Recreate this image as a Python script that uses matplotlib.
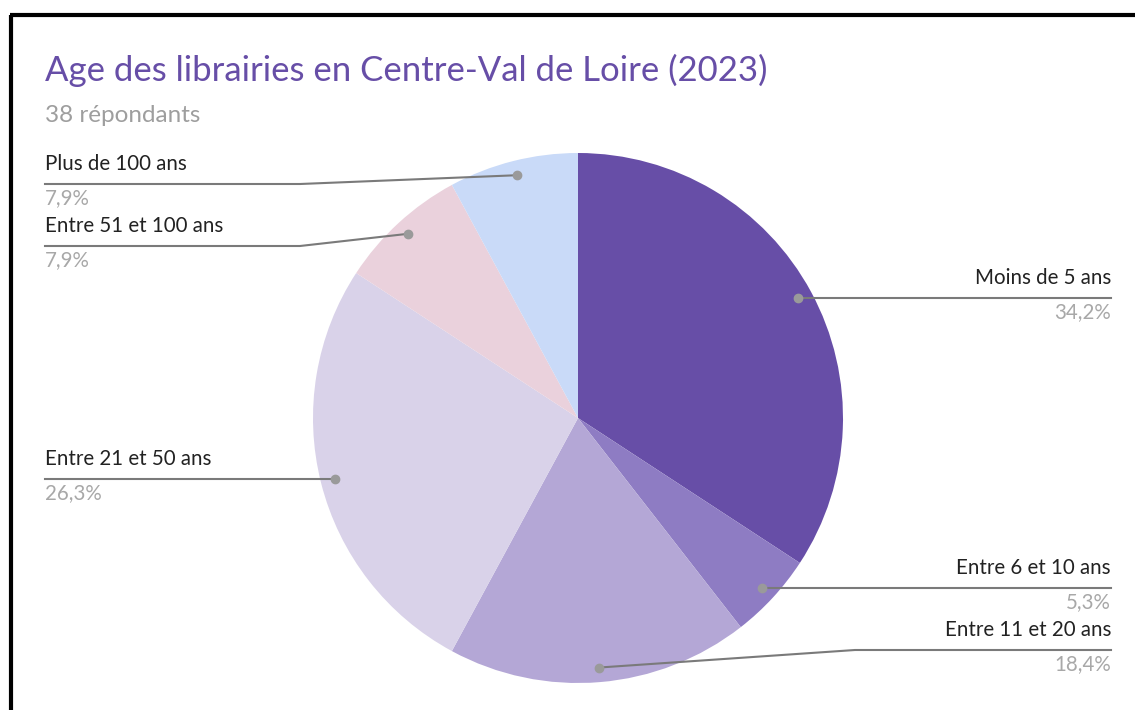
import numpy as np
import matplotlib.pyplot as plt

plt.rcParams['font.family'] = ['Lato', 'DejaVu Sans']

categories = ["Moins de 5 ans", "Entre 6 et 10 ans", "Entre 11 et 20 ans",
              "Entre 21 et 50 ans", "Entre 51 et 100 ans", "Plus de 100 ans"]
counts = [13, 2, 7, 10, 3, 3]
colors = ["#674ea7", "#8e7cc3", "#b4a7d6", "#d9d2e9", "#ead1dc", "#c9daf8"]

W, H = 1135, 710
cx, cy, r = 578, H - 418, 265

fig = plt.figure(figsize=(W / 100, H / 100), dpi=100)
ax = fig.add_axes([0, 0, 1, 1])
ax.pie(counts, colors=colors, startangle=90, counterclock=False,
       center=(cx, cy), radius=r, frame=True,
       wedgeprops=dict(linewidth=0))
ax.set_xlim(0, W)
ax.set_ylim(0, H)
ax.set_aspect('equal')
ax.axis('off')

# frame edges visible in the screenshot (top and left only)
ax.plot([10, W], [H - 15, H - 15], color='black', lw=3, solid_capstyle='butt')
ax.plot([10.5, 10.5], [0, H - 15], color='black', lw=3, solid_capstyle='butt')

ax.text(45, H - 70, "Age des librairies en Centre-Val de Loire (2023)",
        color="#674ea7", fontsize=25, va='center', ha='left')
ax.text(45, H - 115, "38 répondants", color="#9e9e9e", fontsize=17.5,
        va='center', ha='left')

# label layout: side, line y (px from top), optional elbow x
layout = {
    "Moins de 5 ans": ('right', 298, None),
    "Entre 6 et 10 ans": ('right', 588, None),
    "Entre 11 et 20 ans": ('right', 650, 855),
    "Entre 21 et 50 ans": ('left', 479, None),
    "Entre 51 et 100 ans": ('left', 246, 300),
    "Plus de 100 ans": ('left', 184, 300),
}

total = sum(counts)
cum = 0
for name, n in zip(categories, counts):
    mid = (cum + n / 2) / total
    cum += n
    ang = np.pi / 2 - 2 * np.pi * mid
    px = cx + 0.945 * r * np.cos(ang)
    py = cy + 0.945 * r * np.sin(ang)
    side, ly, elbow = layout[name]
    ly = H - ly
    end = 1111 if side == 'right' else 45
    xs, ys = [px], [py]
    if elbow is not None:
        xs.append(elbow)
        ys.append(ly)
    else:
        ys[0] = ly
        py = ly
    xs.append(end)
    ys.append(ly)
    ax.plot(xs, ys, color="#7a7a7a", lw=1.5, zorder=3)
    ax.plot(px, py, 'o', color="#9a9a9a", ms=6, zorder=4)
    pct = f"{100 * n / total:.1f}%".replace('.', ',')
    ha = 'right' if side == 'right' else 'left'
    ax.text(end, ly + 20, name, color="#222222", fontsize=14.8, ha=ha, va='center')
    ax.text(end, ly - 14, pct, color="#a8a8a8", fontsize=14.8, ha=ha, va='center')

fig.savefig("out.png", dpi=100)
